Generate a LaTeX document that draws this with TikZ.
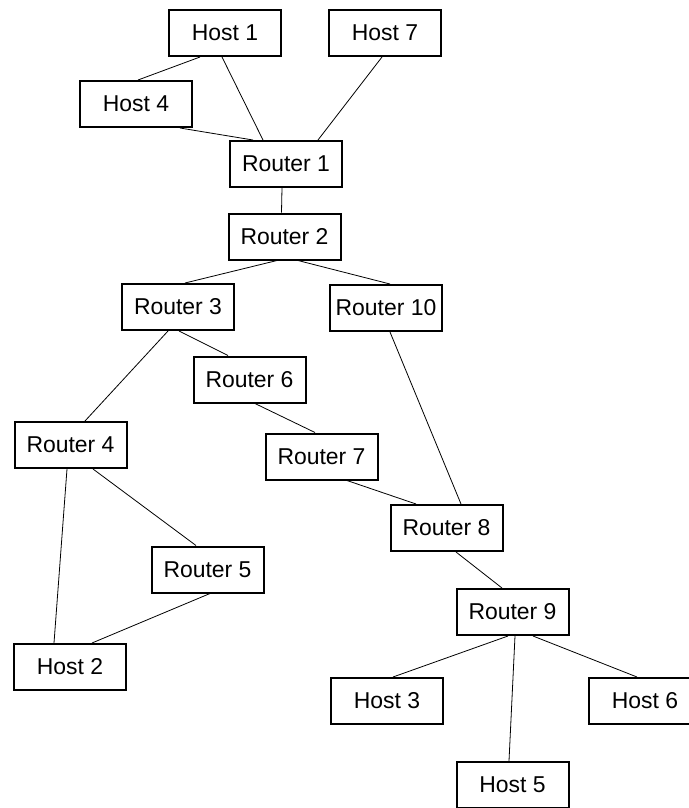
\documentclass[tikz,border=0pt]{standalone}
\usepackage{fontspec}
\setmainfont{Liberation Sans}
\usetikzlibrary{calc}
\begin{document}
\begin{tikzpicture}[x=0.75pt,y=-0.75pt,
  box/.style={draw,line width=1.5pt,minimum width=84pt,minimum height=34.5pt,inner sep=0pt,font=\fontsize{17.2}{20}\selectfont},
  link/.style={line width=0.6pt}]
\clip (0,0) rectangle (689,808);
\fill[white] (0,0) rectangle (689,808);
\node[box] (h1) at (225,33) {Host 1};
\node[box] (h7) at (385,33) {Host 7};
\node[box] (h4) at (136,104) {Host 4};
\node[box] (r1) at (286,164) {Router 1};
\node[box] (r2) at (284.5,236.5) {Router 2};
\node[box] (r3) at (178,307) {Router 3};
\node[box] (r10) at (386,308) {Router 10};
\node[box] (r6) at (249.5,379.5) {Router 6};
\node[box] (r4) at (70.5,445) {Router 4};
\node[box] (r7) at (321.5,456.5) {Router 7};
\node[box] (r8) at (446.5,528) {Router 8};
\node[box] (r5) at (207.5,569.5) {Router 5};
\node[box] (r9) at (512.5,612) {Router 9};
\node[box] (h2) at (70,667) {Host 2};
\node[box] (h3) at (387,701) {Host 3};
\node[box] (h6) at (645,701) {Host 6};
\node[box] (h5) at (512.5,785) {Host 5};
\draw[link] ($(h1.south)+(-25,0)$) -- ($(h4.north)+(2,0)$);
\draw[link] ($(h1.south)+(-3,0)$) -- ($(r1.north)+(-23,0)$);
\draw[link] ($(h4.south)+(44,0)$) -- ($(r1.north)+(-33,0)$);
\draw[link] ($(h7.south)+(-3,0)$) -- ($(r1.north)+(32,0)$);
\draw[link] ($(r1.south)+(-4,0)$) -- ($(r2.north)+(-3,0)$);
\draw[link] ($(r2.south)+(-7.5,0)$) -- ($(r3.north)+(7,0)$);
\draw[link] ($(r2.south)+(13.5,0)$) -- ($(r10.north)+(4,0)$);
\draw[link] ($(r3.south)+(-10,0)$) -- ($(r4.north)+(14.5,0)$);
\draw[link] ($(r3.south)+(1,0)$) -- ($(r6.north)+(-21.5,0)$);
\draw[link] ($(r6.south)+(5.5,0)$) -- ($(r7.north)+(-6.5,0)$);
\draw[link] ($(r7.south)+(25.5,0)$) -- ($(r8.north)+(-30.5,0)$);
\draw[link] ($(r10.south)+(4,0)$) -- ($(r8.north)+(14.5,0)$);
\draw[link] ($(r4.south)+(-3.5,0)$) -- ($(h2.north)+(-16,0)$);
\draw[link] ($(r4.south)+(22.5,0)$) -- ($(r5.north)+(-11.5,0)$);
\draw[link] ($(r5.south)+(2.5,0)$) -- ($(h2.north)+(22,0)$);
\draw[link] ($(r8.south)+(9.5,0)$) -- ($(r9.north)+(-10.5,0)$);
\draw[link] ($(r9.south)+(-4.5,0)$) -- ($(h3.north)+(6,0)$);
\draw[link] ($(r9.south)+(2.5,0)$) -- ($(h5.north)+(-3.5,0)$);
\draw[link] ($(r9.south)+(20.5,0)$) -- ($(h6.north)+(-8,0)$);
\end{tikzpicture}
\end{document}
